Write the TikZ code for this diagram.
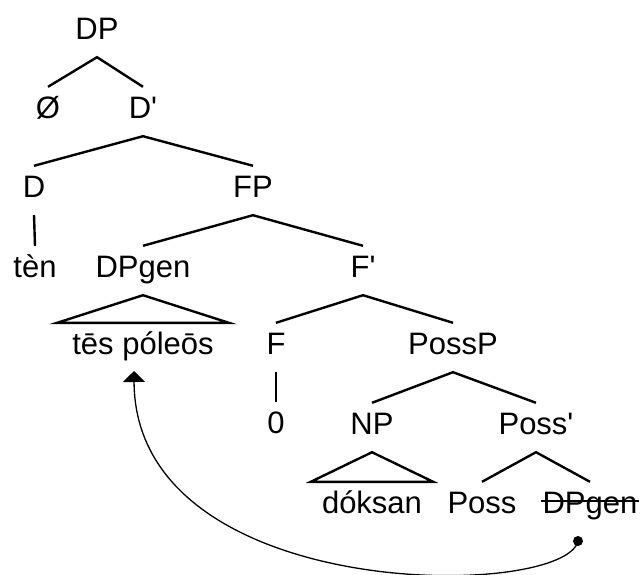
\documentclass[tikz,border=0pt]{standalone}
\usepackage{fontspec}
\newfontfamily\arvore{Liberation Sans}
\usepackage{tikz}
\usetikzlibrary{arrows.meta}
\tikzset{
  cat/.style={anchor=base,inner xsep=1pt,inner ysep=14pt,text height=17pt,
    text depth=4pt,font=\arvore\fontsize{31}{36}\selectfont},
  ramo/.style={line width=2.4pt,line join=miter},
  seta/.style={-{Triangle[length=11pt,width=22pt]},line width=1.3pt}
}
\begin{document}
\begin{tikzpicture}[x=1pt,y=-1pt]
\useasboundingbox (0,0) rectangle (641,574);
\node[cat] (dp) at (97,39) {DP};
\node[cat] (nulo) at (48,118) {Ø};
\node[cat] (dbar) at (143,118) {D'};
\node[cat] (d) at (34,197) {D};
\node[cat] (fp) at (253,197) {FP};
\node[cat] (ten) at (35,277) {tèn};
\node[cat] (dpgen) at (143,277) {DPgen};
\node[cat] (fbar) at (363,277) {F'};
\node[cat] (tes) at (143,354) {tēs póleōs};
\node[cat] (f) at (276,354) {F};
\node[cat] (possp) at (453,354) {PossP};
\node[cat] (zero) at (276,433) {0};
\node[cat] (np) at (372,434) {NP};
\node[cat] (possbar) at (536,434) {Poss'};
\node[cat] (doksan) at (372,513) {dóksan};
\node[cat] (poss) at (482,513) {Poss};
\node[cat] (gen) at (590,513) {DPgen};
\draw[ramo] (nulo.north) -- (dp.south) -- (dbar.north);
\draw[ramo] (d.north) -- (dbar.south) -- (fp.north);
\draw[ramo] (d.south) -- (ten.north);
\draw[ramo] (dpgen.north) -- (fp.south) -- (fbar.north);
\draw[ramo] (dpgen.south) -- ([xshift=-14pt]tes.north west) -- ([xshift=14pt]tes.north east) -- cycle;
\draw[ramo] (f.north) -- (fbar.south) -- (possp.north);
\draw[ramo] (f.south) -- (zero.north);
\draw[ramo] (np.north) -- (possp.south) -- (possbar.north);
\draw[ramo] (np.south) -- ([xshift=-10pt]doksan.north west) -- ([xshift=10pt]doksan.north east) -- cycle;
\draw[ramo] (poss.north) -- (possbar.south) -- (gen.north);
\draw[line width=1.5pt] ([yshift=12pt]gen.base west) -- ([yshift=12pt]gen.base east);
\coordinate (trace) at (578,541);
\coordinate (landing) at (134,371);
\fill (trace) circle[radius=5pt];
\draw[seta] (trace) .. controls (565,600) and (135,605) .. (landing);
\end{tikzpicture}
\end{document}
